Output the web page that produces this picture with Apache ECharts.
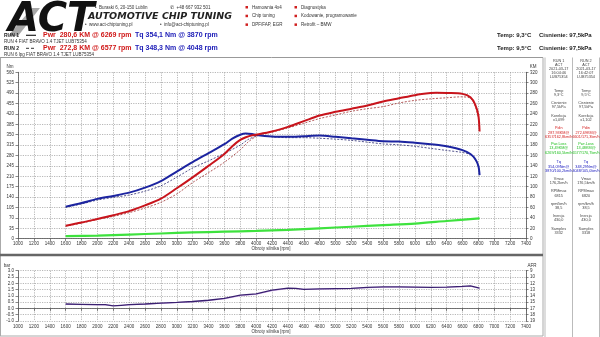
<!DOCTYPE html>
<html>
<head>
<meta charset="utf-8">
<script src="https://cdn.jsdelivr.net/npm/echarts@6/dist/echarts.min.js"></script>
<style>
  html, body { margin: 0; padding: 0; background: #fff; }
  #chart { width: 600px; height: 337px; }
</style>
</head>
<body>
<div id="chart"></div>
<script>
// ---- dyno data ----
// RUN 1 (solid) torque [Nm] and power [KM]
const rpmRun1 = [1600,1800,2000,2200,2400,2600,2800,3000,3200,3400,3600,3700,3800,3870,3950,4000,4200,4400,4600,4800,5000,5200,5400,5600,5800,6000,6200,6269,6400,6600,6700,6760,6800,6815];
const tqRun1  = [108,120,134,144,155,172,194,226,258,288,318,337,350,354.1,352,349,344,343,345,347,343,338,333,328,327,323,318,316,311,298,285,268,245,214];
const pwrRun1 = [25,31,38,45,53,64,77,97,118,140,163,178,190,195,199,200,206,215,226,237,244,250,256,264,270,276,280,280.6,280.2,278.5,272,258,237,206];

// RUN 2 (dashed) torque [Nm] and power [KM]
const rpmRun2 = [1600,1800,2000,2200,2400,2600,2800,3000,3200,3400,3600,3800,3900,4000,4048,4100,4200,4400,4600,4800,5000,5200,5400,5600,5800,6000,6200,6400,6577,6700,6760,6800,6815];
const tqRun2  = [105,117,130,139,147,160,178,207,238,262,287,315,334,345,348.3,347,343,340,340,338,335,331,325,319,316,311,304,297,291,283,266,243,212];
const pwrRun2 = [24,30,37,43,50,59,70,86,108,127,147,171,186,197,200,202,205,213,222,231,238,245,250,254,261,266,269,271,272.8,270,255,232,206];

// drivetrain loss [KM]
const rpmLoss = [1600,2000,2400,2800,3200,3600,4000,4400,4800,5200,5600,6000,6400,6815];
const pwrLoss = [5,6,8,10,12,13.5,15,17,20,23,26,29,34,39];

// boost pressure [bar]
const rpmBoost = [1600,1800,2000,2100,2200,2300,2400,2600,2800,3000,3200,3400,3600,3800,4000,4200,4400,4500,4600,4800,5000,5200,5400,5600,5800,6000,6200,6400,6600,6700,6815];
const boostRun1 = [0.35,0.33,0.30,0.30,0.20,0.25,0.30,0.35,0.42,0.48,0.55,0.65,0.80,1.05,1.15,1.45,1.62,1.60,1.52,1.55,1.58,1.60,1.68,1.72,1.72,1.70,1.68,1.70,1.75,1.80,1.62];
const boostRun2 = [0.32,0.30,0.28,0.27,0.22,0.24,0.28,0.33,0.40,0.46,0.52,0.62,0.76,1.00,1.12,1.40,1.58,1.58,1.52,1.52,1.55,1.58,1.64,1.68,1.70,1.68,1.66,1.68,1.72,1.76,1.60];

// axis ticks
const nmMax = 560, nmStep = 35;
const kmMax = 320, kmStep = 20;
const rpmMin = 1000, rpmMax = 7400, rpmStep = 200;
const barMin = -1, barMax = 3, barStep = 0.5;
const afrMin = 9, afrMax = 19, afrStep = 1.25;

// header texts
const runLegend = [
  { run: 'RUN 1', pwr: 'Pwr  280,6 KM @ 6269 rpm', tq: 'Tq 354,1 Nm @ 3870 rpm', desc: 'RUN 4 FIAT BRAVO 1.4 TJET LUB75354', dash: false },
  { run: 'RUN 2', pwr: 'Pwr  272,8 KM @ 6577 rpm', tq: 'Tq 348,3 Nm @ 4048 rpm', desc: 'RUN 6 lpg FIAT BRAVO 1.4 TJET LUB75354', dash: true }
];
const ambient = [['Temp: 9,3°C', 'Cisnienie: 97,5kPa'], ['Temp: 9,5°C', 'Cisnienie: 97,5kPa']];
const servicesA = ['Hamownia 4x4', 'Chip tuning', 'DPF/FAP, EGR'];
const servicesB = ['Diagnostyka', 'Kodowanie, programowanie', 'Retrofit – BMW'];

// side panel: [label, value lines...]
const sideHead = [
  ['RUN 1', 'ACT', '2021-03-17', '16:04:46', 'LUB75354'],
  ['RUN 2', 'ACT', '2021-03-17', '16:42:07', 'LUB75354']
];
const sideBlocks = [
  [['Temp', '9,3°C'], ['Cisnienie', '97,5kPa'], ['Korekcja', 'x1,099'],
   ['Pdin', '287,93KM@', '6357/162,8km/h'], ['Pwr.Loss', '13,49KM@', '6269/160,5km/h'],
   ['Tq', '354,09Nm@', '3870/100,2km/h'], ['Vmax', '176,2km/h'], ['RPMmax', '6815'],
   ['rpm/km/h', '38,5'], ['Inercja', '430,0'], ['Samples', '3332']],
  [['Temp', '9,5°C'], ['Cisnienie', '97,5kPa'], ['Korekcja', 'x1,102'],
   ['Pdin', '272,69KM@', '6601/171,3km/h'], ['Pwr.Loss', '13,48KM@', '6577/170,7km/h'],
   ['Tq', '348,29Nm@', '4048/105,0km/h'], ['Vmax', '176,5km/h'], ['RPMmax', '6820'],
   ['rpm/km/h', '38,5'], ['Inercja', '430,0'], ['Samples', '3318']]
];
const sideBlockY = [90.7, 102.7, 115.7, 128.3, 144, 162.3, 178.7, 191.3, 203.7, 216, 229];
const sideColour = { 'Pdin': '#d42020', 'Pwr.Loss': '#22c022', 'Tq': '#2020c0' };

const RED = '#c8141c', BLUE = '#1c24a0', GREEN = '#3ee23e';
const FONT = 'Liberation Sans';

function pairs(xs, ys) { return xs.map((x, i) => [x, ys[i]]); }

// ---- header / chrome graphics ----
const g = [];
function txt(x, y, text, font, fill, align) {
  g.push({ type: 'text', x: x, y: y, silent: true,
    style: { text: text, font: font, fill: fill, textAlign: align || 'left', textVerticalAlign: 'middle' } });
}
function line(x1, y1, x2, y2, stroke, w) {
  g.push({ type: 'line', silent: true, shape: { x1: x1, y1: y1, x2: x2, y2: y2 },
    style: { stroke: stroke, lineWidth: w } });
}
function rect(x, y, w, h, fill, stroke) {
  g.push({ type: 'rect', silent: true, shape: { x: x, y: y, width: w, height: h },
    style: { fill: fill || 'none', stroke: stroke || null, lineWidth: 1 } });
}

// logo
g.push({ type: 'polygon', silent: true, shape: { points: [[8, 36], [32, 8], [40, 8], [18, 36]] },
  style: { fill: '#a8a8a8' } });
txt(8, 21, 'ACT', 'italic 900 40px "DejaVu Sans"', '#111');
txt(88, 17, 'AUTOMOTIVE CHIP TUNING', 'italic bold 9.5px "DejaVu Sans"', '#222');
txt(95, 7.5, '•  Buraski 6, 20-150 Lublin', '4.5px "' + FONT + '"', '#333');
txt(170, 7.5, '✆  +48 667 932 501', '4.5px "' + FONT + '"', '#333');
txt(85, 25, '•  www.act-chiptuning.pl', '4.5px "' + FONT + '"', '#333');
txt(160, 25, '•  info@act-chiptuning.pl', '4.5px "' + FONT + '"', '#333');
servicesA.forEach((s, i) => { rect(245.5, 6 + i * 8.7, 2.5, 2.5, '#d02020'); txt(252, 7.3 + i * 8.7, s, '4.5px "' + FONT + '"', '#333'); });
servicesB.forEach((s, i) => { rect(294.5, 6 + i * 8.7, 2.5, 2.5, '#d02020'); txt(301, 7.3 + i * 8.7, s, '4.5px "' + FONT + '"', '#333'); });

// run legend
runLegend.forEach((r, i) => {
  const y = 35.3 + i * 13;
  txt(4, y, r.run, 'bold 5px "' + FONT + '"', '#222');
  if (r.dash) { line(26, y, 29, y, '#333', 1); line(31, y, 34, y, '#333', 1); }
  else line(26, y, 36, y, '#222', 1.2);
  txt(43, y, r.pwr, 'bold 7px "' + FONT + '"', '#d01818');
  txt(135, y, r.tq, 'bold 7px "' + FONT + '"', '#2020b8');
  txt(4, y + 6.3, r.desc, '4.5px "' + FONT + '"', '#333');
  txt(497, y, ambient[i][0], 'bold 6px "' + FONT + '"', '#222');
  txt(539, y, ambient[i][1], 'bold 6px "' + FONT + '"', '#222');
});

// panel frames
line(0, 57.5, 543, 57.5, '#999', 1);
line(0.5, 57.5, 0.5, 336, '#aaa', 1);
line(543, 57.5, 543, 336, '#aaa', 1);
line(0, 255, 543, 255, '#666', 2.5);
line(0, 336, 543, 336, '#aaa', 1);
line(545, 57.5, 545, 337, '#bbb', 1);
line(572.5, 57.5, 572.5, 337, '#bbb', 1);
line(599.5, 57.5, 599.5, 337, '#bbb', 1);

// side panel
[558.7, 586].forEach((cx, c) => {
  sideHead[c].forEach((s, i) => txt(cx, 60.7 + i * 4, s, '3.8px "' + FONT + '"', '#444', 'center'));
  sideBlocks[c].forEach((blk, b) => {
    const col = sideColour[blk[0]] || '#444';
    blk.forEach((s, i) => txt(cx, sideBlockY[b] + i * 4.3, s, '3.8px "' + FONT + '"', col, 'center'));
  });
});

// axis titles
txt(10, 67, 'Nm', '4.5px "' + FONT + '"', '#333', 'center');
txt(533, 67, 'KM', '4.5px "' + FONT + '"', '#333', 'center');
txt(7, 265.5, 'bar', '4.5px "' + FONT + '"', '#333', 'center');
txt(532, 265.5, 'AFR', '4.5px "' + FONT + '"', '#333', 'center');
txt(271, 248.5, 'Obroty silnika [rpm]', '4.5px "' + FONT + '"', '#333', 'center');
txt(271, 331.5, 'Obroty silnika [rpm]', '4.5px "' + FONT + '"', '#333', 'center');

// ---- chart ----
const gridLine = { show: true, lineStyle: { color: '#9a9a9a', type: [1.2, 1.2], width: 0.7 } };
const axisLn = { show: true, lineStyle: { color: '#555', width: 0.8 } };
const tick = { show: true, length: 2.5, lineStyle: { color: '#555', width: 0.7 } };
const lbl = { fontSize: 4.5, color: '#333', fontFamily: FONT, margin: 4, formatter: v => String(v) };

function xAxis(gridIndex) {
  return { type: 'value', gridIndex: gridIndex, min: rpmMin, max: rpmMax, interval: rpmStep,
    axisLine: axisLn, axisTick: tick, splitLine: gridLine,
    axisLabel: Object.assign({}, lbl, { margin: 3 }) };
}

const option = {
  animation: false,
  backgroundColor: '#fff',
  graphic: g,
  grid: [
    { left: 18, right: 74, top: 72.3, height: 166.4 },
    { left: 18, right: 74, top: 270.7, height: 50.3 }
  ],
  xAxis: [xAxis(0), xAxis(1)],
  yAxis: [
    { type: 'value', gridIndex: 0, min: 0, max: nmMax, interval: nmStep,
      axisLine: axisLn, axisTick: tick, splitLine: gridLine, axisLabel: lbl },
    { type: 'value', gridIndex: 0, position: 'right', min: 0, max: kmMax, interval: kmStep,
      axisLine: axisLn, axisTick: tick, splitLine: { show: false }, axisLabel: lbl },
    { type: 'value', gridIndex: 1, min: barMin, max: barMax, interval: barStep,
      axisLine: axisLn, axisTick: tick, splitLine: gridLine,
      axisLabel: Object.assign({}, lbl, { formatter: v => v.toFixed(1) }) },
    { type: 'value', gridIndex: 1, position: 'right', inverse: true, min: afrMin, max: afrMax, interval: afrStep,
      axisLine: axisLn, axisTick: tick, splitLine: { show: false },
      axisLabel: Object.assign({}, lbl, { formatter: v => String(Math.round(v + 1e-9)) }) }
  ],
  series: [
    { name: 'Pwr.Loss', type: 'line', xAxisIndex: 0, yAxisIndex: 1, data: pairs(rpmLoss, pwrLoss),
      showSymbol: false, smooth: 0.3, lineStyle: { color: GREEN, width: 2.2 } },
    { name: 'Tq RUN 2', type: 'line', xAxisIndex: 0, yAxisIndex: 0, data: pairs(rpmRun2, tqRun2),
      showSymbol: false, smooth: 0.3, lineStyle: { color: '#2a2a70', width: 0.8, type: [2, 1.5] } },
    { name: 'Pwr RUN 2', type: 'line', xAxisIndex: 0, yAxisIndex: 1, data: pairs(rpmRun2, pwrRun2),
      showSymbol: false, smooth: 0.3, lineStyle: { color: '#a03030', width: 0.8, type: [2, 1.5] } },
    { name: 'Tq RUN 1', type: 'line', xAxisIndex: 0, yAxisIndex: 0, data: pairs(rpmRun1, tqRun1),
      showSymbol: false, smooth: 0.3, lineStyle: { color: BLUE, width: 2 } },
    { name: 'Pwr RUN 1', type: 'line', xAxisIndex: 0, yAxisIndex: 1, data: pairs(rpmRun1, pwrRun1),
      showSymbol: false, smooth: 0.3, lineStyle: { color: RED, width: 2 } },
    { name: 'Boost RUN 2', type: 'line', xAxisIndex: 1, yAxisIndex: 2, data: pairs(rpmBoost, boostRun2),
      showSymbol: false, lineStyle: { color: '#d9b8f0', width: 1 } },
    { name: 'Boost RUN 1', type: 'line', xAxisIndex: 1, yAxisIndex: 2, data: pairs(rpmBoost, boostRun1),
      showSymbol: false, lineStyle: { color: '#3a2070', width: 1.3 } }
  ]
};

const chart = echarts.init(document.getElementById('chart'), null, { renderer: 'canvas' });
chart.setOption(option);
</script>
</body>
</html>
